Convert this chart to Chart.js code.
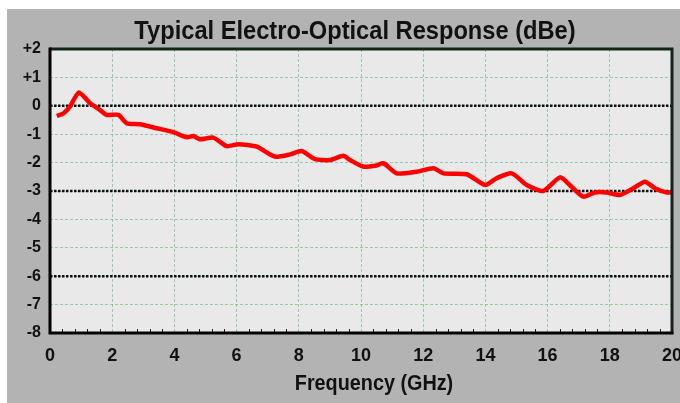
<!DOCTYPE html>
<html>
  <head>
    <script src="https://cdn.jsdelivr.net/npm/chart.js@4/dist/chart.umd.min.js"></script>
    <style>
      body { margin: 0; background: #fff; }
      #wrap { position: absolute; left: 7px; top: 9px; width: 673px; height: 394px; background: #b3b3b3; }
    </style>
  </head>

  <body>
    <div id="wrap">
      <canvas id="canvas" width="673" height="394"></canvas>
    </div>
    <script>
      const freqGHz = [0.22, 0.43, 0.64, 0.93, 1.29, 1.61, 1.82, 2.2, 2.47, 2.89, 3.43, 3.97, 4.4, 4.61, 4.82,
        5.25, 5.68, 6.05, 6.65, 7.23, 7.72, 8.09, 8.52, 9.0, 9.43, 9.65, 10.07, 10.5, 10.72, 11.15, 11.79,
        12.33, 12.65, 13.4, 13.99, 14.36, 14.85, 15.33, 15.86, 16.4, 16.77, 17.15, 17.52, 17.9, 18.33,
        18.76, 19.13, 19.45, 19.82, 20];
      const responseDb = [-0.36, -0.27, -0.03, 0.47, 0.09, -0.15, -0.32, -0.32, -0.62, -0.65, -0.79, -0.93,
        -1.11, -1.06, -1.18, -1.12, -1.42, -1.35, -1.44, -1.79, -1.71, -1.59, -1.88, -1.91, -1.76, -1.91,
        -2.14, -2.1, -2.02, -2.38, -2.32, -2.2, -2.38, -2.41, -2.79, -2.55, -2.38, -2.79, -3.0, -2.52,
        -2.85, -3.2, -3.05, -3.05, -3.14, -2.9, -2.67, -2.9, -3.05, -3.05];
      const refLevels = [0, -3, -6];
      const xTicks = [0, 2, 4, 6, 8, 10, 12, 14, 16, 18, 20];
      const yTickLabels = ['-8', '-7', '-6', '-5', '-4', '-3', '-2', '-1', '0', '+1', '+2'];
      const chartTitle = 'Typical Electro-Optical Response (dBe)';
      const xTitle = 'Frequency (GHz)';

      const FONT = "'Liberation Sans', Arial, sans-serif";

      // bold text squeezed sideways, the source uses a narrow face
      function narrowText(ctx, text, cx, cy, size, sx) {
        ctx.save();
        ctx.font = 'bold ' + size + 'px ' + FONT;
        ctx.fillStyle = '#111';
        ctx.textAlign = 'center';
        ctx.textBaseline = 'middle';
        ctx.translate(cx, cy);
        ctx.scale(sx, 1);
        ctx.fillText(text, 0, 0);
        ctx.restore();
      }

      const framePlugin = {
        id: 'frame',
        beforeDraw(chart) {
          const { ctx, chartArea: a } = chart;
          ctx.save();
          ctx.fillStyle = '#e9e9e9';
          ctx.fillRect(a.left, a.top, a.right - a.left, a.bottom - a.top);
          ctx.restore();
        },
        afterDraw(chart) {
          const { ctx, chartArea: a } = chart;
          const xs = chart.scales.x;
          ctx.save();
          ctx.lineWidth = 1;
          ctx.strokeStyle = '#222';
          for (let v = 0.4; v < 20; v += 0.4) {
            if (Math.abs(v / 2 - Math.round(v / 2)) < 0.01) continue;
            const px = Math.round(xs.getPixelForValue(v)) + 0.5;
            ctx.beginPath();
            ctx.moveTo(px, a.bottom);
            ctx.lineTo(px, a.bottom - 4);
            ctx.stroke();
          }
          ctx.lineWidth = 3;
          ctx.strokeStyle = '#13251b';
          ctx.beginPath();
          ctx.moveTo(a.left, a.top);
          ctx.lineTo(a.right, a.top);
          ctx.lineTo(a.right, a.bottom);
          ctx.stroke();
          ctx.strokeStyle = '#000';
          ctx.beginPath();
          ctx.moveTo(a.left, a.top - 1.5);
          ctx.lineTo(a.left, a.bottom);
          ctx.lineTo(a.right + 1.5, a.bottom);
          ctx.stroke();
          ctx.restore();
          narrowText(ctx, chartTitle, 348, 23, 26, 0.91);
          narrowText(ctx, xTitle, 367, 375, 22, 0.9);
        },
      };

      const refSets = refLevels.map((v) => ({
        data: [{ x: 0, y: v }, { x: 20, y: v }],
        borderColor: '#111',
        borderWidth: 2.5,
        borderDash: [2.5, 1.5],
        pointRadius: 0,
        order: 2,
      }));

      new Chart(document.getElementById('canvas').getContext('2d'), {
        type: 'line',
        data: {
          datasets: [
            {
              data: freqGHz.map((f, i) => ({ x: f, y: responseDb[i] })),
              borderColor: '#ff0000',
              borderWidth: 4.5,
              pointRadius: 0,
              tension: 0.2,
              order: 1,
            },
            ...refSets,
          ],
        },
        plugins: [framePlugin],
        options: {
          responsive: false,
          animation: false,
          devicePixelRatio: 1,
          layout: { padding: { left: 0, top: 40, right: 8, bottom: 0 } },
          plugins: {
            legend: { display: false },
            tooltip: { enabled: false },
          },
          scales: {
            x: {
              type: 'linear',
              min: 0,
              max: 20,
              offset: false,
              afterBuildTicks: (s) => { s.ticks = xTicks.map((v) => ({ value: v })); },
              afterFit: (s) => { s.height = 70; s.paddingLeft = 0; s.paddingRight = 0; },
              grid: { color: 'rgba(90,170,120,0.55)', lineWidth: 1, drawTicks: false },
              border: { display: false, dash: [3, 2] },
              ticks: {
                color: '#111',
                padding: 12,
                maxRotation: 0,
                autoSkip: false,
                font: { family: FONT, size: 18, weight: 'bold' },
              },
            },
            y: {
              type: 'linear',
              min: -8,
              max: 2,
              afterBuildTicks: (s) => { s.ticks = yTickLabels.map((t) => ({ value: Number(t) })); },
              afterFit: (s) => { s.width = 43; s.paddingTop = 0; s.paddingBottom = 0; },
              grid: { color: 'rgba(90,170,120,0.55)', lineWidth: 1, drawTicks: false },
              border: { display: false, dash: [3, 2] },
              ticks: {
                color: '#111',
                padding: 9,
                font: { family: FONT, size: 16, weight: 'bold' },
                callback: (v) => yTickLabels[v + 8],
              },
            },
          },
        },
      });
    </script>
  </body>
</html>
